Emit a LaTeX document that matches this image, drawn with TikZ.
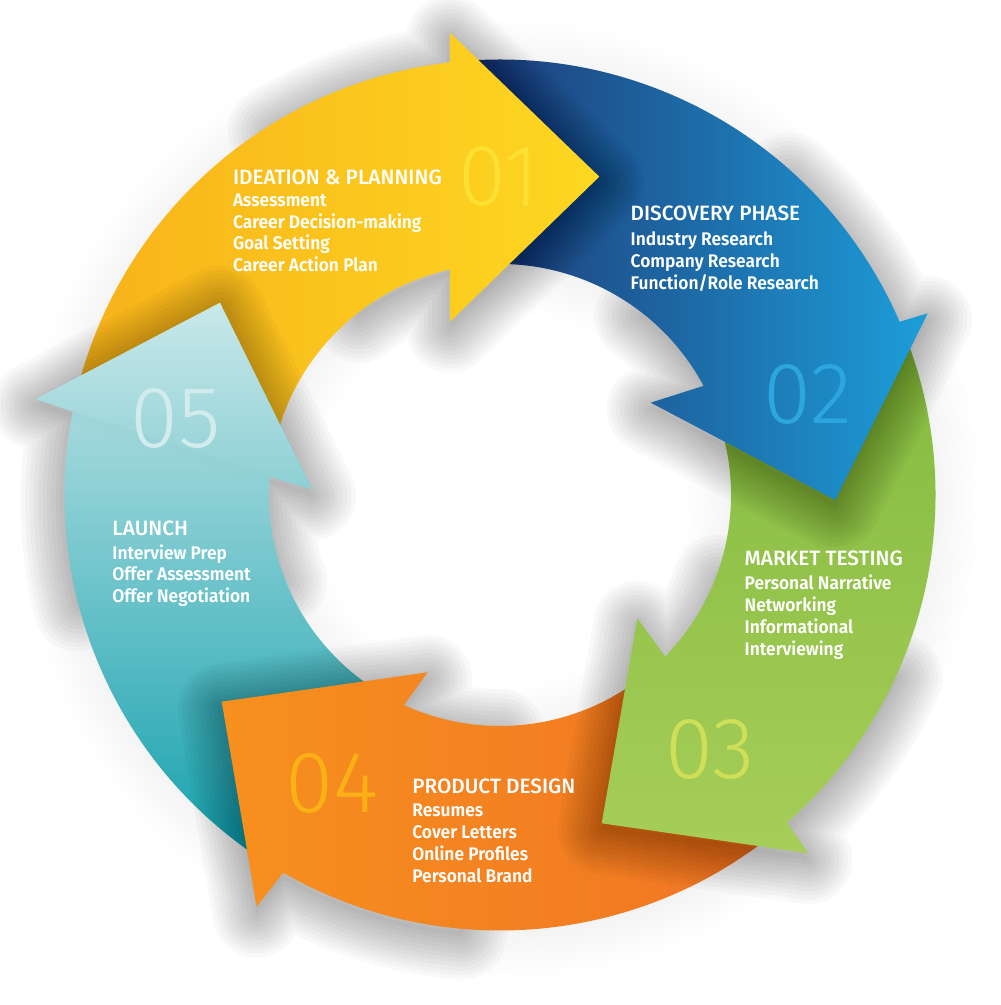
\documentclass[tikz,border=0pt]{standalone}
\usepackage{fontspec}
\setmainfont{Fira Sans}
\IfFontExistsTF{Fira Sans Medium}{\newfontfamily\hdfont{Fira Sans Medium}}{\newfontfamily\hdfont{Fira Sans}}
\IfFontExistsTF{Fira Sans SemiBold}{\newfontfamily\labfont{Fira Sans SemiBold}[FakeStretch=0.95]}{\newfontfamily\labfont{Fira Sans}[FakeStretch=0.95]}
\IfFontExistsTF{Fira Sans Light}{\newfontfamily\numfont{Fira Sans Light}}{\newfontfamily\numfont{Fira Sans}}
\definecolor{yA}{HTML}{F8B21A}
\definecolor{yB}{HTML}{FDD821}
\definecolor{bA}{HTML}{1E3B78}
\definecolor{bB}{HTML}{1C9ED9}
\definecolor{gA}{HTML}{84BA40}
\definecolor{gB}{HTML}{A6CE58}
\definecolor{oA}{HTML}{F7901E}
\definecolor{oB}{HTML}{F07424}
\definecolor{tA}{HTML}{C9E8E9}
\definecolor{tB}{HTML}{14A0AD}
\definecolor{nY}{HTML}{FCE033}
\definecolor{nB}{HTML}{2DA6DF}
\definecolor{nG}{HTML}{D0DF58}
\definecolor{nO}{HTML}{FBB116}
\definecolor{nT}{HTML}{D2EBED}
\tikzset{
  ringarrow/.style n args={7}{insert path={(#1:435.5) arc[start angle=#1,end angle=#2,radius=43.55mm] -- #3 -- #4 -- #5 -- (#6:231) arc[start angle=#6,end angle=#7,radius=23.1mm] -- cycle}},
  Yshape/.style={ringarrow={165}{96.6}{(-50,462.3)}{(99.3,318.3)}{(-50,173.3)}{102.5}{165}},
  Yhs/.style={ringarrow={121.6}{96.6}{(-50,462.3)}{(99.3,318.3)}{(-50,173.3)}{102.5}{127.5}},
  Bshape/.style={ringarrow={93.5}{23.43}{(427.7,181.7)}{(335.3,-5)}{(150.7,92.3)}{28.2}{95}},
  Bhs/.style={ringarrow={48.4}{23.43}{(427.7,181.7)}{(335.3,-5)}{(150.7,92.3)}{28.2}{53.2}},
  Gshape/.style={ringarrow={21}{-48.77}{(308.3,-358.3)}{(101.7,-328.3)}{(137.3,-123.3)}{-44.36}{15}},
  Ghs/.style={ringarrow={-23.8}{-48.77}{(308.3,-358.3)}{(101.7,-328.3)}{(137.3,-123.3)}{-44.36}{-19.4}},
  Oshape/.style={ringarrow={-51}{-119.87}{(-243.3,-411.7)}{(-278.3,-206.7)}{(-72.3,-177.3)}{-114.57}{-54}},
  Ohs/.style={ringarrow={-95}{-119.87}{(-243.3,-411.7)}{(-278.3,-206.7)}{(-72.3,-177.3)}{-114.57}{-90}},
  Tshape/.style={ringarrow={237}{168.95}{(-464,96)}{(-280,192.3)}{(-188,5.7)}{175.45}{237}},
  Ths/.style={ringarrow={194}{168.95}{(-464,96)}{(-280,192.3)}{(-188,5.7)}{175.45}{200}},
  Thead/.style={insert path={(-464,96) -- (-280,192.3) -- (-188,5.7) -- cycle}},
  hd/.style={anchor=base west, inner sep=0pt, text=white, font=\hdfont\fontsize{5.9}{7}\selectfont},
  it/.style={anchor=base west, inner sep=0pt, text=white, font=\labfont\fontsize{5.2}{6}\selectfont},
  num/.style={anchor=center, inner sep=0pt, font=\numfont\fontsize{24.8}{26}\selectfont},
}
% #1 path style, #2 opacity per layer, #3 downward offset
\newcommand\softshadow[3]{%
  \begin{scope}[shift={(0,-#3)}]
    \foreach \w in {2.5,5,...,25} {\draw[black, draw opacity=#2, line width=\w pt, line join=round, #1];}
    \fill[black, fill opacity=#2, #1];
  \end{scope}}
\begin{document}
\begin{tikzpicture}[x=0.1mm,y=0.1mm]
\useasboundingbox (-500,-510) rectangle (500,495);
\fill[white] (-500,-510) rectangle (500,495);
% 05 teal
\softshadow{Tshape}{0.005}{4}
\softshadow{Ths}{0.022}{7}
\shade[top color=tA, bottom color=tB, Tshape];
% 04 orange
\softshadow{Oshape}{0.005}{4}
\softshadow{Ohs}{0.022}{7}
\shade[left color=oA, right color=oB, Oshape];
% 03 green
\softshadow{Gshape}{0.005}{4}
\softshadow{Ghs}{0.022}{7}
\shade[top color=gA, bottom color=gB, Gshape];
% 02 blue
\softshadow{Bshape}{0.005}{4}
\softshadow{Bhs}{0.022}{7}
\shade[left color=bA, right color=bB, Bshape];
% 01 yellow
\softshadow{Yshape}{0.005}{4}
\softshadow{Yhs}{0.022}{7}
\shade[left color=yA, right color=yB, Yshape];
% teal head on top of yellow
\begin{scope}
  \clip[Yshape];
  \softshadow{Thead}{0.026}{7}
\end{scope}
\begin{scope}
  \clip[Thead];
  \shade[top color=tA, bottom color=tB, Tshape];
\end{scope}
% numbers
\node[num, text=nY] (n1) at (-1,318.3) {01};
\node[num, text=nB] (n2) at (308,100.5) {02};
\node[num, text=nG] (n3) at (210.5,-254.3) {03};
\node[num, text=nO] (n4) at (-168,-288.3) {04};
\node[num, text=nT] (n5) at (-324.5,76.2) {05};
% texts
\node[hd] (yh) at (-267.7,310) {IDEATION \& PLANNING};
\foreach \t [count=\i] in {Assessment, Career Decision-making, Goal Setting, Career Action Plan}
  \node[it] (y\i) at (-267.7,{288.5-21.6*(\i-1)}) {\t};
\node[hd] (bh) at (130,274.3) {DISCOVERY PHASE};
\foreach \t [count=\i] in {Industry Research, Company Research, Function/Role Research}
  \node[it] (b\i) at (130,{249.3-21.8*(\i-1)}) {\t};
\node[hd] (gh) at (244,-71) {MARKET TESTING};
\foreach \t [count=\i] in {Personal Narrative, Networking, Informational, Interviewing}
  \node[it] (g\i) at (244,{-95-21.7*(\i-1)}) {\t};
\node[hd] (oh) at (-88.3,-298.3) {PRODUCT DESIGN};
\foreach \t [count=\i] in {Resumes, Cover Letters, Online Profiles, Personal Brand}
  \node[it] (o\i) at (-88.3,{-321.7-21.8*(\i-1)}) {\t};
\node[hd] (th) at (-388.3,-41) {LAUNCH};
\foreach \t [count=\i] in {Interview Prep, Offer Assessment, Offer Negotiation}
  \node[it] (t\i) at (-388.3,{-64.3-21.7*(\i-1)}) {\t};
\end{tikzpicture}
\end{document}
